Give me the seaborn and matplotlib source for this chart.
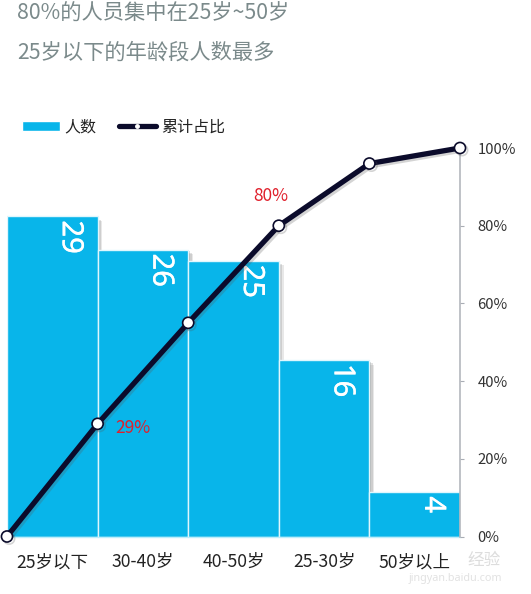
import matplotlib
matplotlib.use("Agg")
import matplotlib.pyplot as plt
import matplotlib.patheffects as pe
from matplotlib.lines import Line2D
from matplotlib.patches import Patch
import numpy as np
import seaborn as sns

age_groups = ["25岁以下", "30-40岁", "40-50岁", "25-30岁", "50岁以上"]
counts = [29, 26, 25, 16, 4]
cum_share = [0, 29, 55, 80, 96, 100]
share_ticks = [0, 20, 40, 60, 80, 100]
share_notes = {1: "29%", 3: "80%"}
headlines = ["80%的人员集中在25岁~50岁", "25岁以下的年龄段人数最多"]

bar_color = "#08b5ea"
line_color = "#0b0b2b"
head_color = "#7b8a8b"
note_color = "#e0202c"

sns.set_theme(style="white")
plt.rcParams['font.family'] = ['Noto Sans CJK SC', 'DejaVu Sans']

W, H = 531, 594
fig = plt.figure(figsize=(W/100, H/100), dpi=100)
ax = fig.add_axes([7/W, 1-536.5/H, 453/W, 388.5/H])

sns.barplot(x=age_groups, y=counts, color=bar_color, saturation=1, width=1,
            edgecolor="#dff6fd", linewidth=1, ax=ax)
# stacked offsets so the shadow fades out instead of a hard grey strip
for bar in ax.patches:
    bar.set_path_effects([pe.SimplePatchShadow(offset=(3.5, -3.5), shadow_rgbFace="#666666", alpha=0.15),
                          pe.SimplePatchShadow(offset=(2.5, -2.5), shadow_rgbFace="#666666", alpha=0.2),
                          pe.SimplePatchShadow(offset=(1.2, -1.2), shadow_rgbFace="#666666", alpha=0.25),
                          pe.Normal()])
ax.set_xlim(-0.5, len(age_groups)-0.5)
ax.set_ylim(0, 35.2)
ax.set_yticks([])
ax.tick_params(axis="x", length=0, pad=12, labelsize=12.6, labelcolor="#222222")
for s in ["top", "left", "right"]:
    ax.spines[s].set_visible(False)
ax.spines["bottom"].set_color("#bdeefb")
ax.spines["bottom"].set_linewidth(1)

# numbers sit rotated in the top right part of each bar
for i, c in enumerate(counts):
    ax.annotate(str(c), xy=(i, c), xytext=(18, -4), textcoords="offset pixels",
                rotation=-90, color="white", fontsize=21, ha="center", va="top",
                family=["Noto Sans", "DejaVu Sans"], zorder=3,
                path_effects=[pe.withStroke(linewidth=0.25, foreground="white")])

ax2 = ax.twinx()
edges = np.arange(len(cum_share)) - 0.5
sns.lineplot(x=edges, y=cum_share, color=line_color, linewidth=3.8, marker="o",
             markersize=8, markerfacecolor="white", markeredgecolor=line_color,
             markeredgewidth=1.2, clip_on=False, ax=ax2, zorder=5,
             path_effects=[pe.SimpleLineShadow(offset=(1.5, -1.5), shadow_color="#555555", alpha=0.25),
                           pe.Normal()])
ax2.set_ylim(0, 100)
ax2.set_xlim(ax.get_xlim())
ax2.set_yticks(share_ticks)
ax2.set_yticklabels([f"{t}%" for t in share_ticks])
ax2.set_ylabel("")
ax2.tick_params(axis="y", right=True, length=3, width=0.8, color="#a9adb5", pad=9.5,
                labelsize=10.7, labelcolor="#333333")
for s in ["top", "left", "bottom"]:
    ax2.spines[s].set_visible(False)
ax2.spines["right"].set_color("#b4b7bd")
ax2.spines["right"].set_linewidth(1.2)

for i, note in share_notes.items():
    off = (35, -4) if i == 1 else (-8, 30)
    ax2.annotate(note, xy=(edges[i], cum_share[i]), xytext=off, textcoords="offset pixels",
                 color=note_color, fontsize=12.5, ha="center", va="center", zorder=6)

fig.text(17/W, 1-14/H, headlines[0], color=head_color, fontsize=15.3, va="center")
fig.text(17/W, 1-53/H, headlines[1], color=head_color, fontsize=15.3, va="center")

handles = [Patch(facecolor=bar_color, label="人数"),
           Line2D([], [], color=line_color, linewidth=3.8, marker="o", markersize=2.5,
                  markerfacecolor="white", markeredgecolor="white", label="累计占比")]
fig.legend(handles=handles, loc="center left", bbox_to_anchor=(14/W, 1-127/H), ncol=2, frameon=False,
           fontsize=11.5, handlelength=2.35, handleheight=0.65, handletextpad=0.3, columnspacing=1.4,
           borderpad=0, labelcolor="#222222")

# faint site watermark, bottom right
fig.text(484/W, 1-560/H, "经验", color="#dddddd", fontsize=12, ha="center", va="center")
fig.text(455/W, 1-578/H, "jingyan.baidu.com", color="#e2e2e2", fontsize=7.8, ha="center", va="center",
         family=["Noto Sans", "DejaVu Sans"], zorder=0)

fig.savefig("out.png", dpi=100)
